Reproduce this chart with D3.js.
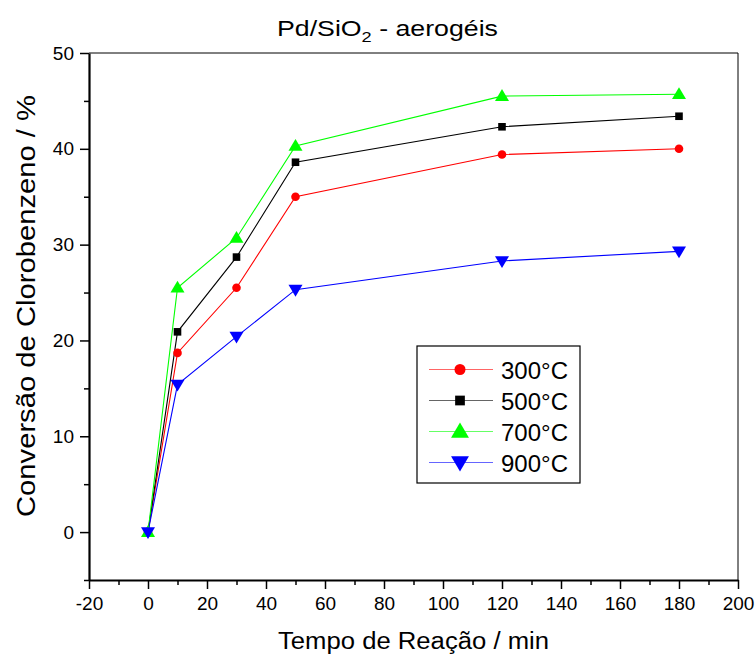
<!DOCTYPE html>
<html>
<head>
<meta charset="utf-8">
<script src="https://cdn.jsdelivr.net/npm/d3@7/dist/d3.min.js"></script>
<style>
  html, body { margin: 0; padding: 0; background: #fff; }
  svg { display: block; font-family: "Liberation Sans", Arial, sans-serif; }
</style>
</head>
<body>
<svg id="chart" width="756" height="659"></svg>
<script>
// Reaction time (min) and chlorobenzene conversion (%) for each calcination temperature
const tempo = [0, 10, 30, 50, 120, 180];
const conv300 = [0, 18.7, 25.5, 35.0, 39.4, 40.0];
const conv500 = [0, 20.9, 28.7, 38.6, 42.3, 43.4];
const conv700 = [0, 25.5, 30.7, 40.3, 45.5, 45.7];
const conv900 = [0, 15.4, 20.4, 25.3, 28.3, 29.3];
const seriesNames = ["300°C", "500°C", "700°C", "900°C"];
const xTicks = [-20, 0, 20, 40, 60, 80, 100, 120, 140, 160, 180, 200];
const yTicks = [0, 10, 20, 30, 40, 50];

const series = [
  { name: seriesNames[0], values: conv300, color: "#ff0000", marker: "circle" },
  { name: seriesNames[1], values: conv500, color: "#000000", marker: "square" },
  { name: seriesNames[2], values: conv700, color: "#00ff00", marker: "up" },
  { name: seriesNames[3], values: conv900, color: "#0000ff", marker: "down" }
];

const svg = d3.select("#chart");
const plotL = 89, plotR = 738, plotT = 53, plotB = 580;
const FONT = "Liberation Sans, Arial, sans-serif";

const x = d3.scaleLinear().domain([-20, 200]).range([plotL, plotR]);
const y = d3.scaleLinear().domain([-5, 50]).range([plotB, plotT]);

// Marker shapes, s = scale factor
function markerPath(type, s) {
  const p = d3.path();
  if (type === "circle") {
    const r = 4.3 * s;
    p.arc(0, 0, r, 0, 2 * Math.PI);
  } else if (type === "square") {
    const h = 3.8 * s;
    p.rect(-h, -h, 2 * h, 2 * h);
  } else if (type === "up") {
    const w = 7 * s, hTop = 7 * s, hBot = 4.8 * s;
    p.moveTo(0, -hTop); p.lineTo(w, hBot); p.lineTo(-w, hBot); p.closePath();
  } else if (type === "down") {
    const w = 7 * s, hTop = 4.8 * s, hBot = 7 * s;
    p.moveTo(0, hBot); p.lineTo(w, -hTop); p.lineTo(-w, -hTop); p.closePath();
  }
  return p.toString();
}

// Frame: thin top and right edges
svg.append("line").attr("x1", plotL).attr("x2", plotR).attr("y1", plotT).attr("y2", plotT)
  .attr("stroke", "#000").attr("stroke-width", 1);
svg.append("line").attr("x1", plotR).attr("x2", plotR).attr("y1", plotT).attr("y2", plotB)
  .attr("stroke", "#000").attr("stroke-width", 1);

const plainNum = d => String(d);

// X axis: major ticks with labels, minor ticks in between
const xMinor = d3.range(-10, 200, 20);
svg.append("g").attr("transform", `translate(0,${plotB})`)
  .call(d3.axisBottom(x).tickValues(xMinor).tickSize(5).tickFormat(""))
  .call(g => g.select(".domain").remove())
  .call(g => g.selectAll("line").attr("stroke-width", 1.5));
const gx = svg.append("g").attr("transform", `translate(0,${plotB})`)
  .call(d3.axisBottom(x).tickValues(xTicks).tickSize(9).tickSizeOuter(0).tickPadding(8).tickFormat(plainNum));
gx.select(".domain").attr("stroke-width", 2.2);
gx.selectAll("line").attr("stroke-width", 1.5);
gx.selectAll("text").attr("font-size", 19).attr("font-family", FONT).attr("fill", "#000");

// Y axis
const yMinor = d3.range(-5, 50, 10);
svg.append("g").attr("transform", `translate(${plotL},0)`)
  .call(d3.axisLeft(y).tickValues(yMinor).tickSize(5).tickFormat(""))
  .call(g => g.select(".domain").remove())
  .call(g => g.selectAll("line").attr("stroke-width", 1.5));
const gy = svg.append("g").attr("transform", `translate(${plotL},0)`)
  .call(d3.axisLeft(y).tickValues(yTicks).tickSize(9).tickSizeOuter(0).tickPadding(6).tickFormat(plainNum));
gy.select(".domain").attr("stroke-width", 2.2);
gy.selectAll("line").attr("stroke-width", 1.5);
gy.selectAll("text").attr("font-size", 19).attr("font-family", FONT).attr("fill", "#000");

// Series lines and markers
const line = d3.line().x((d, i) => x(tempo[i])).y(d => y(d));
series.forEach(s => {
  svg.append("path").datum(s.values).attr("d", line)
    .attr("fill", "none").attr("stroke", s.color).attr("stroke-width", 1.1);
});
series.forEach(s => {
  svg.append("g").selectAll("path").data(s.values).join("path")
    .attr("transform", (d, i) => `translate(${x(tempo[i])},${y(d)})`)
    .attr("d", markerPath(s.marker, 1))
    .attr("fill", s.color);
});

// Titles
const title = svg.append("text").attr("x", 277).attr("y", 36)
  .attr("font-size", 22).attr("fill", "#000")
  .attr("textLength", 221).attr("lengthAdjust", "spacingAndGlyphs");
title.append("tspan").text("Pd/SiO");
title.append("tspan").attr("font-size", 15).attr("dy", 6).text("2");
title.append("tspan").attr("dy", -6).text(" - aerogéis");

svg.append("text").attr("x", 278).attr("y", 649)
  .attr("font-size", 23).attr("fill", "#000")
  .attr("textLength", 271).attr("lengthAdjust", "spacingAndGlyphs")
  .text("Tempo de Reação / min");

svg.append("text").attr("transform", `translate(35,517) rotate(-90)`)
  .attr("font-size", 25).attr("fill", "#000")
  .attr("textLength", 422).attr("lengthAdjust", "spacingAndGlyphs")
  .text("Conversão de Clorobenzeno / %");

// Legend
const lg = svg.append("g");
lg.append("rect").attr("x", 417).attr("y", 346).attr("width", 163).attr("height", 137)
  .attr("fill", "#fff").attr("stroke", "#000").attr("stroke-width", 1.2);
const rowY = [369.5, 400.5, 431.5, 462.5];
series.forEach((s, i) => {
  const g = lg.append("g").attr("transform", `translate(0,${rowY[i]})`);
  g.append("line").attr("x1", 429).attr("x2", 493).attr("y1", 0).attr("y2", 0)
    .attr("stroke", s.color).attr("stroke-width", 1.1).attr("opacity", 0.6);
  g.append("path").attr("transform", "translate(460,0)")
    .attr("d", markerPath(s.marker, 1.28)).attr("fill", s.color);
  g.append("text").attr("x", 501).attr("y", 9).attr("font-size", 24).attr("fill", "#000").text(s.name);
});
</script>
</body>
</html>
